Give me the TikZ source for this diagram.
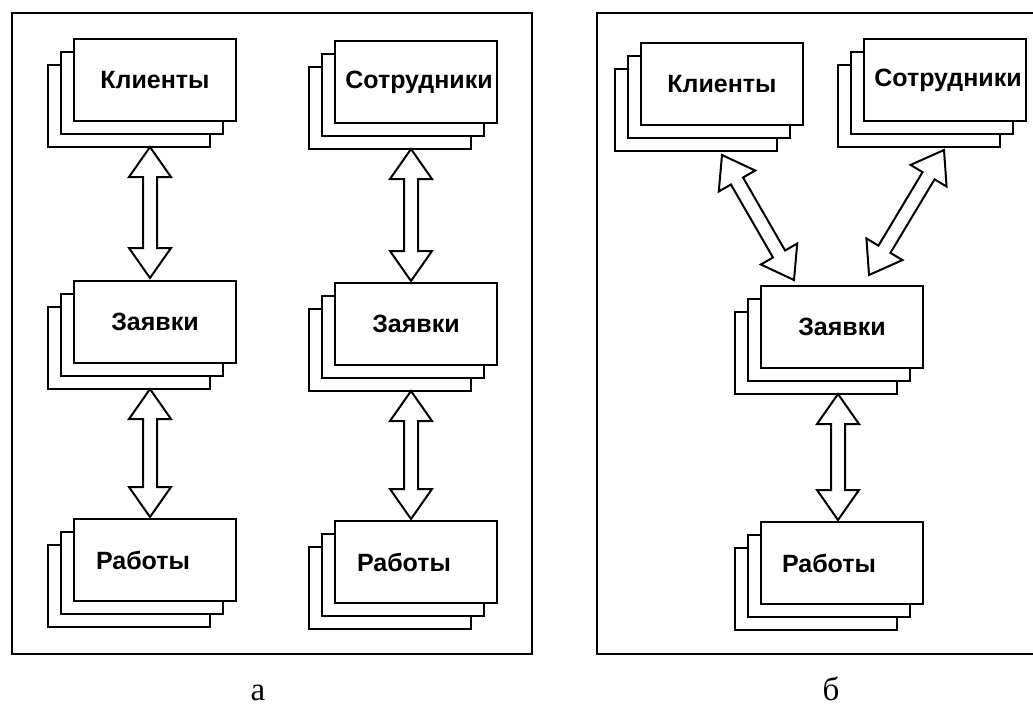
\documentclass[tikz,border=0pt]{standalone}
\usepackage{fontspec}
\setmainfont{Liberation Serif}
\newfontfamily\boxfont{Liberation Sans}
\usetikzlibrary{calc}

\tikzset{
  card/.style={draw, fill=white, line width=2pt,
    minimum width=162pt, minimum height=82pt, inner sep=0pt,
    font=\boxfont\bfseries\fontsize{25}{28}\selectfont},
  panel/.style={draw, line width=2pt, inner sep=0pt},
  caption/.style={font=\fontsize{33}{36}\selectfont, anchor=base, inner sep=0pt},
  blockarrow/.style={draw, fill=white, line width=2pt, line join=miter},
}

% a stack of three cards; the front one carries the name and the text
\newcommand\entity[4]{%
  \node[card] (#1-back) at ($(#2)+(-26,26)$) {};
  \node[card] (#1-mid)  at ($(#2)+(-13,13)$) {};
  \node[card] (#1) at (#2) {#3};
  \coordinate (#1-foot) at ($(#1-back.south)+(26+#4,0)$);}

% two-headed hollow block arrow between two named points
\newcommand\dblarrow[2]{%
  \coordinate (#1-h) at ($(#1)!30pt!(#2)$);
  \coordinate (#2-h) at ($(#2)!30pt!(#1)$);
  \draw[blockarrow] (#1)
    -- ($(#1-h)!21pt!90:(#2)$) -- ($(#1-h)!7pt!90:(#2)$)
    -- ($(#2-h)!7pt!-90:(#1)$) -- ($(#2-h)!21pt!-90:(#1)$)
    -- (#2)
    -- ($(#2-h)!21pt!90:(#1)$) -- ($(#2-h)!7pt!90:(#1)$)
    -- ($(#1-h)!7pt!-90:(#2)$) -- ($(#1-h)!21pt!-90:(#2)$)
    -- cycle;}

\begin{document}
\begin{tikzpicture}[x=1pt,y=-1pt]
\useasboundingbox (0,0) rectangle (1033,707);

% panels
\node[panel, minimum width=520pt, minimum height=641pt] (pa) at (272,333.5) {};
\node[panel, minimum width=448pt, minimum height=641pt] (pb) at (821,333.5) {};

% panel a, first column
\entity{kla}{155,80}{Клиенты}{-5}
\entity{zla}{155,322}{Заявки}{-5}
\entity{rla}{155,560}{Работы\hspace*{24pt}}{0}

% panel a, second column
\entity{sra}{416,82}{\hspace*{6pt}Сотрудники}{-5}
\entity{zra}{416,324}{Заявки}{-5}
\entity{rra}{416,562}{Работы\hspace*{24pt}}{0}

% panel b
\entity{klb}{722,84}{Клиенты}{0}
\entity{srb}{945,80}{\hspace*{6pt}Сотрудники}{-1}
\entity{zb}{842,327}{Заявки}{-4}
\entity{rb}{842,563}{Работы\hspace*{26pt}}{0}

% arrow end points
\coordinate (a1s) at ($(kla-foot)+(0,-1)$);
\coordinate (a1e) at ($(zla.north)+(-5,-2)$);
\coordinate (a2s) at ($(zla-foot)+(0,-1)$);
\coordinate (a2e) at ($(rla.north)+(-5,-1)$);
\coordinate (a3s) at ($(sra-foot)+(0,-1)$);
\coordinate (a3e) at ($(zra.north)+(-5,-1)$);
\coordinate (a4s) at ($(zra-foot)+(0,-1)$);
\coordinate (a4e) at ($(rra.north)+(-5,-1)$);
\coordinate (b1s) at ($(klb-foot)+(0,3)$);
\coordinate (b1e) at ($(zb.north west)+(34,-5)$);
\coordinate (b2s) at ($(srb-foot)+(0,2)$);
\coordinate (b2e) at ($(zb.north west)+(109,-10)$);
\coordinate (b3s) at ($(zb-foot)+(0,-1)$);
\coordinate (b3e) at ($(rb.north)+(-4,-1)$);

\dblarrow{a1s}{a1e}
\dblarrow{a2s}{a2e}
\dblarrow{a3s}{a3e}
\dblarrow{a4s}{a4e}
\dblarrow{b1s}{b1e}
\dblarrow{b2s}{b2e}
\dblarrow{b3s}{b3e}

% captions
\node[caption] (capa) at (258,700) {а};
\node[caption] (capb) at (831,700) {б};
\end{tikzpicture}
\end{document}
